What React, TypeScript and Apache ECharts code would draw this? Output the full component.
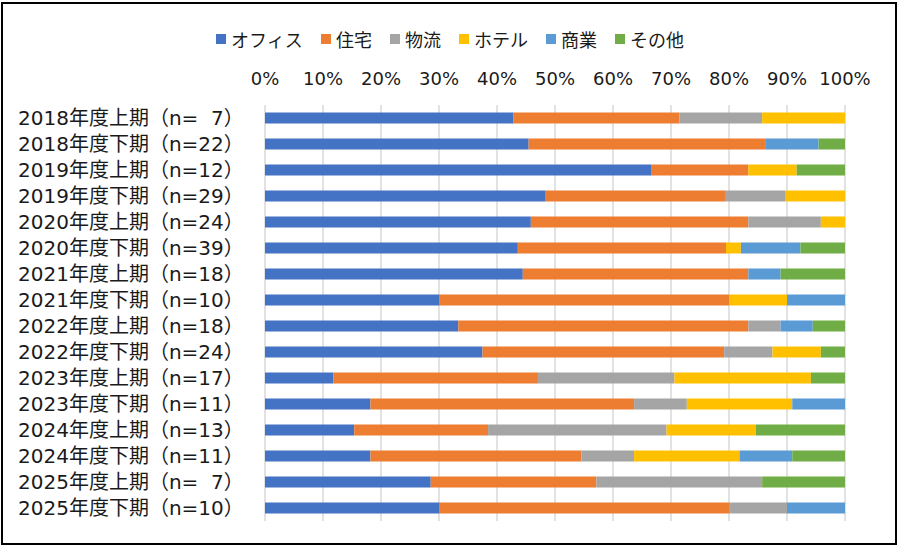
import React, { useEffect, useRef } from "react";
import * as echarts from "echarts";

// Survey periods and sample sizes
const periods = [
  "2018年度上期", "2018年度下期", "2019年度上期", "2019年度下期",
  "2020年度上期", "2020年度下期", "2021年度上期", "2021年度下期",
  "2022年度上期", "2022年度下期", "2023年度上期", "2023年度下期",
  "2024年度上期", "2024年度下期", "2025年度上期", "2025年度下期",
];
const sampleSizes = [7, 22, 12, 29, 24, 39, 18, 10, 18, 24, 17, 11, 13, 11, 7, 10];

// Responses per asset type (counts) for each period
const office = [3, 10, 8, 14, 11, 17, 8, 3, 6, 9, 2, 2, 2, 2, 2, 3];
const residential = [2, 9, 2, 9, 9, 14, 7, 5, 9, 10, 6, 5, 3, 4, 2, 5];
const logistics = [1, 0, 0, 3, 3, 0, 0, 0, 1, 2, 4, 1, 4, 1, 2, 1];
const hotel = [1, 0, 1, 3, 1, 1, 0, 1, 0, 2, 4, 2, 2, 2, 0, 0];
const commercial = [0, 2, 0, 0, 0, 4, 1, 1, 1, 0, 0, 1, 0, 1, 0, 1];
const other = [0, 1, 1, 0, 0, 3, 2, 0, 1, 1, 1, 0, 2, 1, 1, 0];

const seriesNames = ["オフィス", "住宅", "物流", "ホテル", "商業", "その他"];
const seriesCounts = [office, residential, logistics, hotel, commercial, other];
const seriesColors = ["#4472C4", "#ED7D31", "#A5A5A5", "#FFC000", "#5B9BD5", "#70AD47"];

const percentTicks = [0, 10, 20, 30, 40, 50, 60, 70, 80, 90, 100];

// Latin glyphs from DejaVu Sans (wide digits), CJK glyphs fall back to Noto Sans CJK JP
const FONT = "'DejaVu Sans', 'Noto Sans CJK JP', sans-serif";
const CJK_FONT = "'Noto Sans CJK JP', 'Noto Sans', sans-serif";

export default function App() {
  const ref = useRef<HTMLDivElement>(null);

  useEffect(() => {
    document.body.style.margin = "0";
    if (!ref.current) return;
    const chart = echarts.init(ref.current, undefined, { renderer: "svg" });

    const categoryLabels = periods.map((p, i) => {
      const n = sampleSizes[i];
      const nText = n < 10 ? "  " + n : String(n);
      return `${p}（n=${nText}）`;
    });

    chart.setOption({
      animation: false,
      backgroundColor: "#ffffff",
      textStyle: { fontFamily: FONT },
      legend: {
        top: 25,
        left: "center",
        icon: "rect",
        itemWidth: 10,
        itemHeight: 10,
        itemGap: 18,
        textStyle: { fontSize: 18, color: "#1a1a1a", fontFamily: CJK_FONT },
        data: seriesNames,
      },
      grid: { left: 265, right: 55, top: 105, bottom: 27, containLabel: false },
      xAxis: {
        type: "value",
        position: "top",
        min: 0,
        max: 100,
        interval: 10,
        axisLine: { show: false },
        axisTick: { show: false },
        axisLabel: {
          formatter: (v: number) => (percentTicks.includes(v) ? `${v}%` : ""),
          fontSize: 18,
          color: "#1a1a1a",
          fontFamily: FONT,
          margin: 18,
        },
        splitLine: { show: true, lineStyle: { color: "#D9D9D9", width: 1.5 } },
      },
      yAxis: {
        type: "category",
        inverse: true,
        data: categoryLabels,
        axisLine: { show: false },
        axisTick: { show: false },
        axisLabel: {
          fontSize: 20,
          color: "#1a1a1a",
          fontFamily: FONT,
          align: "left",
          margin: 247,
        },
      },
      series: seriesNames.map((name, s) => ({
        name,
        type: "bar",
        stack: "total",
        barWidth: 11,
        itemStyle: { color: seriesColors[s] },
        data: seriesCounts[s].map((c, i) => (c / sampleSizes[i]) * 100),
      })),
      graphic: [
        {
          type: "rect",
          shape: { x: 2, y: 3, width: 894, height: 541 },
          style: { fill: "none", stroke: "#000", lineWidth: 2 },
          silent: true,
        },
      ],
    });

    return () => chart.dispose();
  }, []);

  return <div ref={ref} style={{ width: 900, height: 548 }} />;
}
